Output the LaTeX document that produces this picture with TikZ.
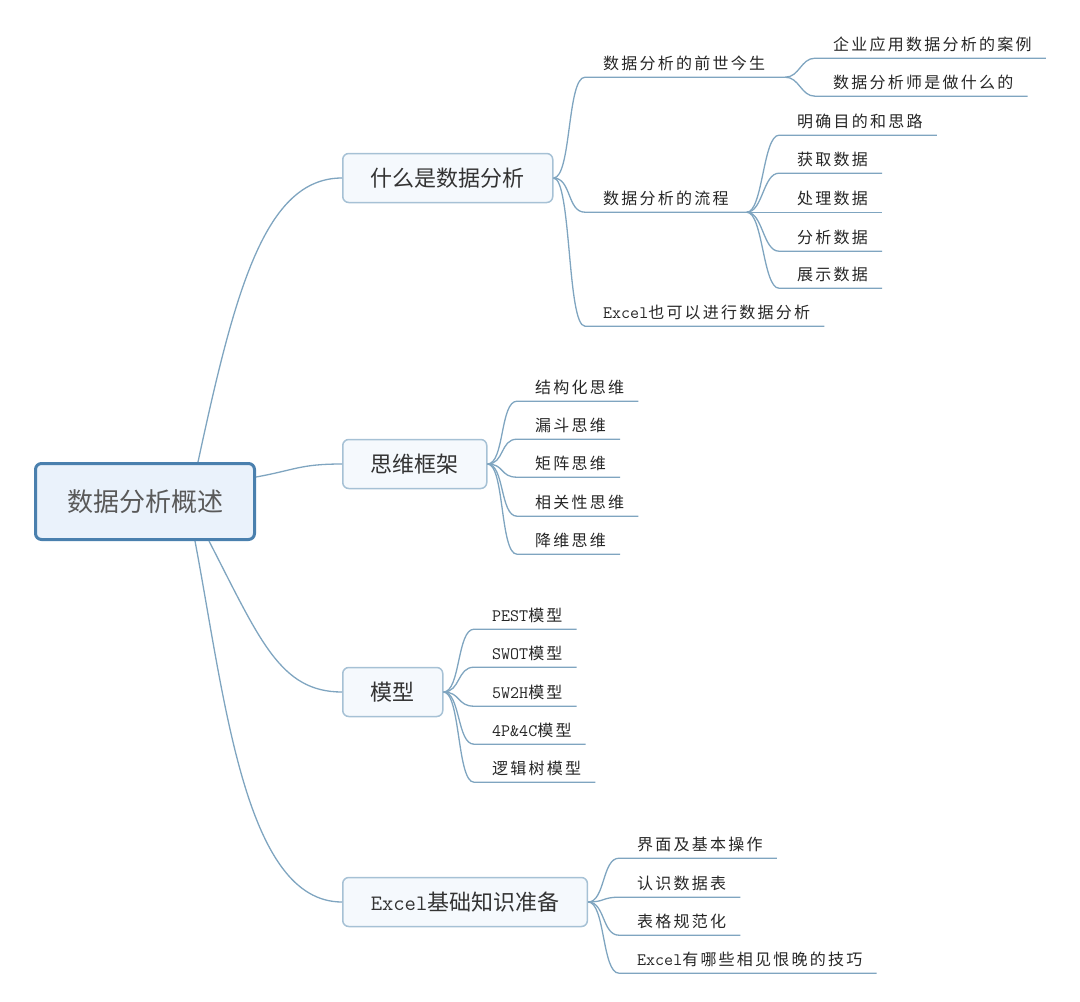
\documentclass[tikz,border=0pt]{standalone}
\usepackage{fontspec}
\usetikzlibrary{calc}
\newfontfamily\cjk{Noto Sans CJK SC}
\newfontfamily\cjkleaf[LetterSpace=14]{Noto Sans CJK SC}
\newcommand\mmBrLat[1]{{\ttfamily\fontsize{22}{26}\selectfont #1}}
\newcommand\mmLeafLat[1]{{\ttfamily\fontsize{17.5}{20}\selectfont #1}}
\definecolor{conncol}{HTML}{7FA5C0}
\definecolor{rootborder}{HTML}{4A80AE}
\definecolor{rootfill}{HTML}{EAF2FB}
\definecolor{brborder}{HTML}{A6C1D5}
\definecolor{brfill}{HTML}{F5F9FD}
\definecolor{leaftext}{HTML}{262626}
\tikzset{
 conn/.style={draw=conncol, line width=1.3pt},
 rootbox/.style={draw=rootborder, line width=3pt, fill=rootfill, rounded corners=6pt,
   inner xsep=0pt, minimum width=219pt, minimum height=76pt,
   font=\cjk\fontsize{26}{30}\selectfont, text=black!65, text height=22.9pt, text depth=3.1pt},
 brbox/.style={draw=brborder, line width=1.5pt, fill=brfill, rounded corners=6pt,
   inner xsep=28pt, minimum height=49pt,
   font=\cjk\fontsize{22}{26}\selectfont, text=black!80, text height=19.4pt, text depth=2.6pt},
 leaf/.style={inner xsep=0pt, inner ysep=6pt, font=\cjkleaf\fontsize{16}{19}\selectfont,
   text=leaftext, text height=14pt, text depth=2pt},
}
\newcommand\mmleaf[7]{%
  \node[leaf, anchor=west] (#2) at (#3,#4) {#5};
  \coordinate (#2-s) at ($(#2.south west)+(-18,0)$);
  \coordinate (#2-e) at ($(#2.south east)+(#7,0)$);
  \draw[conn] (#1) .. controls ($(#1)+(#6,0)$) and ($(#2-s)+(-#6,0)$) .. (#2-s) -- (#2-e);
}
\begin{document}
\begin{tikzpicture}[x=1pt,y=-1pt]
\useasboundingbox (0,0) rectangle (1080,1002);
% root and main branches
\node[rootbox, anchor=west] (root) at (34,501.5) {数据分析概述};
\node[brbox, anchor=west] (b1) at (342,178) {什么是数据分析};
\node[brbox, anchor=west] (b2) at (342,464) {思维框架};
\node[brbox, anchor=west] (b3) at (342,692) {模型};
\node[brbox, anchor=west] (b4) at (342,902) {\mmBrLat{Excel}基础知识准备};
\coordinate (r1) at ($(root.north west)+(164,0)$);
\coordinate (r2) at ($(root.north east)+(0,15)$);
\coordinate (r3) at ($(root.south west)+(175,0)$);
\coordinate (r4) at ($(root.south west)+(161,0)$);
\draw[conn] (r1) .. controls (235,290) and (265,178) .. (b1.west);
\draw[conn] (r2) .. controls (295,470) and (300,464) .. (b2.west);
\draw[conn] (r3) .. controls (260,640) and (280,692) .. (b3.west);
\draw[conn] (r4) .. controls (225,700) and (245,902) .. (b4.west);
% branch 1
\mmleaf{b1.east}{a1}{603}{63}{数据分析的前世今生}{18}{20}
\mmleaf{a1-e}{a11}{833}{44}{企业应用数据分析的案例}{14}{14}
\mmleaf{a1-e}{a12}{833}{82}{数据分析师是做什么的}{14}{14}
\mmleaf{b1.east}{a2}{603}{198}{数据分析的流程}{18}{18}
\mmleaf{a2-e}{a21}{797}{121}{明确目的和思路}{16}{14}
\mmleaf{a2-e}{a22}{797}{159}{获取数据}{16}{14}
\mmleaf{a2-e}{a23}{797}{198}{处理数据}{16}{14}
\mmleaf{a2-e}{a24}{797}{237}{分析数据}{16}{14}
\mmleaf{a2-e}{a25}{797}{274}{展示数据}{16}{14}
\mmleaf{b1.east}{a3}{603}{312}{\mmLeafLat{Excel}也可以进行数据分析}{18}{14}
% branch 2
\mmleaf{b2.east}{c1}{535}{387}{结构化思维}{17}{14}
\mmleaf{b2.east}{c2}{535}{425}{漏斗思维}{17}{14}
\mmleaf{b2.east}{c3}{535}{463}{矩阵思维}{17}{14}
\mmleaf{b2.east}{c4}{535}{502}{相关性思维}{17}{14}
\mmleaf{b2.east}{c5}{535}{540}{降维思维}{17}{14}
% branch 3
\mmleaf{b3.east}{d1}{492}{615}{\mmLeafLat{PEST}模型}{17}{14}
\mmleaf{b3.east}{d2}{492}{653}{\mmLeafLat{SWOT}模型}{17}{14}
\mmleaf{b3.east}{d3}{492}{692}{\mmLeafLat{5W2H}模型}{17}{14}
\mmleaf{b3.east}{d4}{492}{730}{\mmLeafLat{4P\&4C}模型}{17}{14}
\mmleaf{b3.east}{d5}{492}{768}{逻辑树模型}{17}{14}
% branch 4
\mmleaf{b4.east}{e1}{637}{844}{界面及基本操作}{17}{14}
\mmleaf{b4.east}{e2}{637}{883}{认识数据表}{17}{14}
\mmleaf{b4.east}{e3}{637}{921}{表格规范化}{17}{14}
\mmleaf{b4.east}{e4}{637}{959}{\mmLeafLat{Excel}有哪些相见恨晚的技巧}{17}{14}
\end{tikzpicture}
\end{document}
